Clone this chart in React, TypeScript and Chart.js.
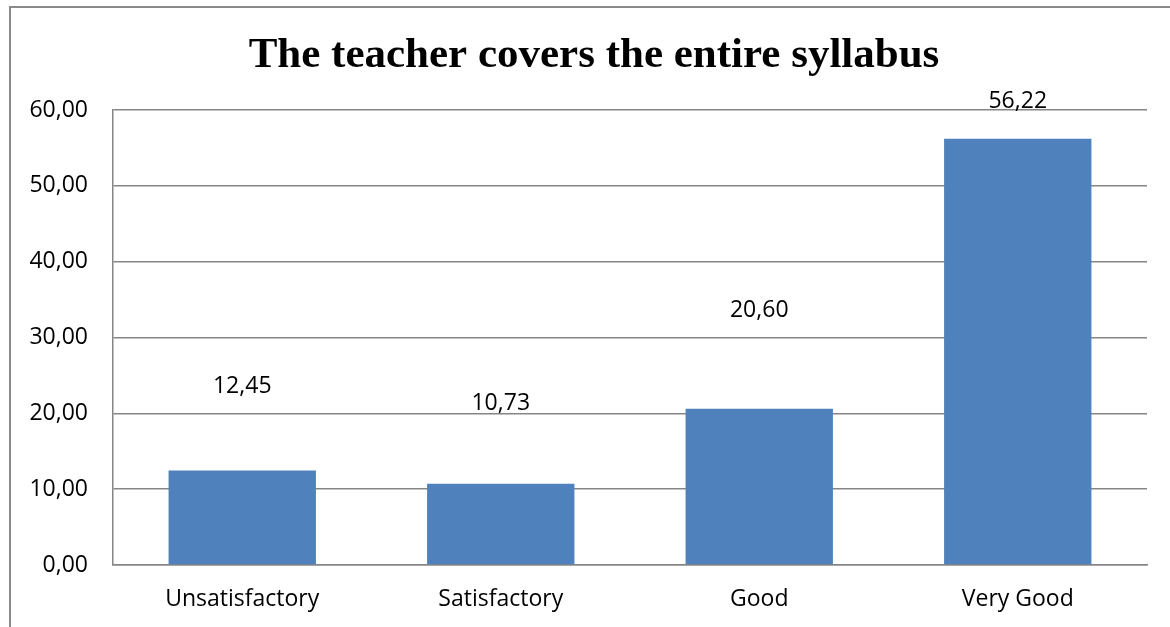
import React, { useEffect, useRef } from "react";
import { Chart, registerables } from "chart.js";

Chart.register(...registerables);

const TITLE = "The teacher covers the entire syllabus";
const CATEGORIES = ["Unsatisfactory", "Satisfactory", "Good", "Very Good"];
const VALUES = [12.45, 10.73, 20.6, 56.22];
const Y_MIN = 0;
const Y_MAX = 60;
const Y_STEP = 10;

const fmt = (v: number) => v.toFixed(2).replace(".", ",");

const labelFont = '"Open Sans", "Noto Sans", sans-serif';
const titleFont = 'bold 43px "Liberation Serif", "Times New Roman", serif';

const labelPlugin = {
  id: "floatLabels",
  afterDatasetsDraw(chart: any, _args: any, opts: any) {
    const ctx = chart.ctx;
    const meta = chart.getDatasetMeta(0);
    const offsets: number[] = opts.offsets || [];
    ctx.save();
    ctx.font = `23px ${labelFont}`;
    ctx.fillStyle = "#000";
    ctx.textAlign = "center";
    ctx.textBaseline = "middle";
    meta.data.forEach((bar: any, i: number) => {
      const v = chart.data.datasets[0].data[i] as number;
      ctx.fillText(fmt(v), bar.x, bar.y - (offsets[i] ?? 40));
    });
    ctx.restore();
  },
};

const titlePlugin = {
  id: "shiftedTitle",
  afterDraw(chart: any, _args: any, opts: any) {
    const ctx = chart.ctx;
    ctx.save();
    ctx.font = titleFont;
    ctx.fillStyle = "#000";
    ctx.textAlign = "center";
    ctx.textBaseline = "alphabetic";
    ctx.fillText(opts.text, chart.width / 2 + (opts.shift ?? 0), opts.baseline ?? 67);
    ctx.restore();
  },
};

export default function App() {
  const ref = useRef<HTMLCanvasElement | null>(null);

  useEffect(() => {
    if (!ref.current) return;
    const chart = new Chart(ref.current, {
      type: "bar",
      data: {
        labels: CATEGORIES,
        datasets: [
          {
            data: VALUES,
            backgroundColor: "#4F81BD",
            borderWidth: 0,
            barPercentage: 0.57,
            categoryPercentage: 1,
          },
        ],
      },
      options: {
        animation: false,
        responsive: false,
        maintainAspectRatio: false,
        layout: { padding: { left: 0, right: 23, top: 110, bottom: 0 } },
        plugins: {
          legend: { display: false },
          tooltip: { enabled: false },
          title: { display: false },
          shiftedTitle: { text: TITLE, shift: 9, baseline: 67 },
          floatLabels: { offsets: [84, 80, 98, 37] },
        } as any,
        scales: {
          x: {
            grid: { display: false, drawTicks: false },
            border: { display: true, color: "#868686", width: 1.5 },
            ticks: {
              color: "#000",
              font: { family: labelFont, size: 23 },
              padding: 21,
            },
            afterFit: (scale: any) => {
              scale.height = 62;
            },
          },
          y: {
            min: Y_MIN,
            max: Y_MAX,
            grid: { color: "#868686", lineWidth: 1.5, drawTicks: false },
            border: { display: true, color: "#868686", width: 1.5 },
            ticks: {
              stepSize: Y_STEP,
              color: "#000",
              font: { family: labelFont, size: 23 },
              padding: 25,
              callback: (v: any) => fmt(Number(v)),
            },
            afterFit: (scale: any) => {
              scale.width = 113;
            },
          },
        },
      },
      plugins: [labelPlugin, titlePlugin],
    });
    return () => chart.destroy();
  }, []);

  return (
    <div style={{ position: "absolute", left: 0, top: 0, width: 1170, height: 627, background: "#fff" }}>
      <canvas ref={ref} width={1170} height={627} style={{ position: "absolute", left: 0, top: 0 }} />
      <div
        style={{
          position: "absolute",
          left: 9,
          top: 6,
          right: 0,
          bottom: 0,
          borderLeft: "2px solid #8a8a8a",
          borderTop: "2px solid #8a8a8a",
          pointerEvents: "none",
        }}
      />
    </div>
  );
}
